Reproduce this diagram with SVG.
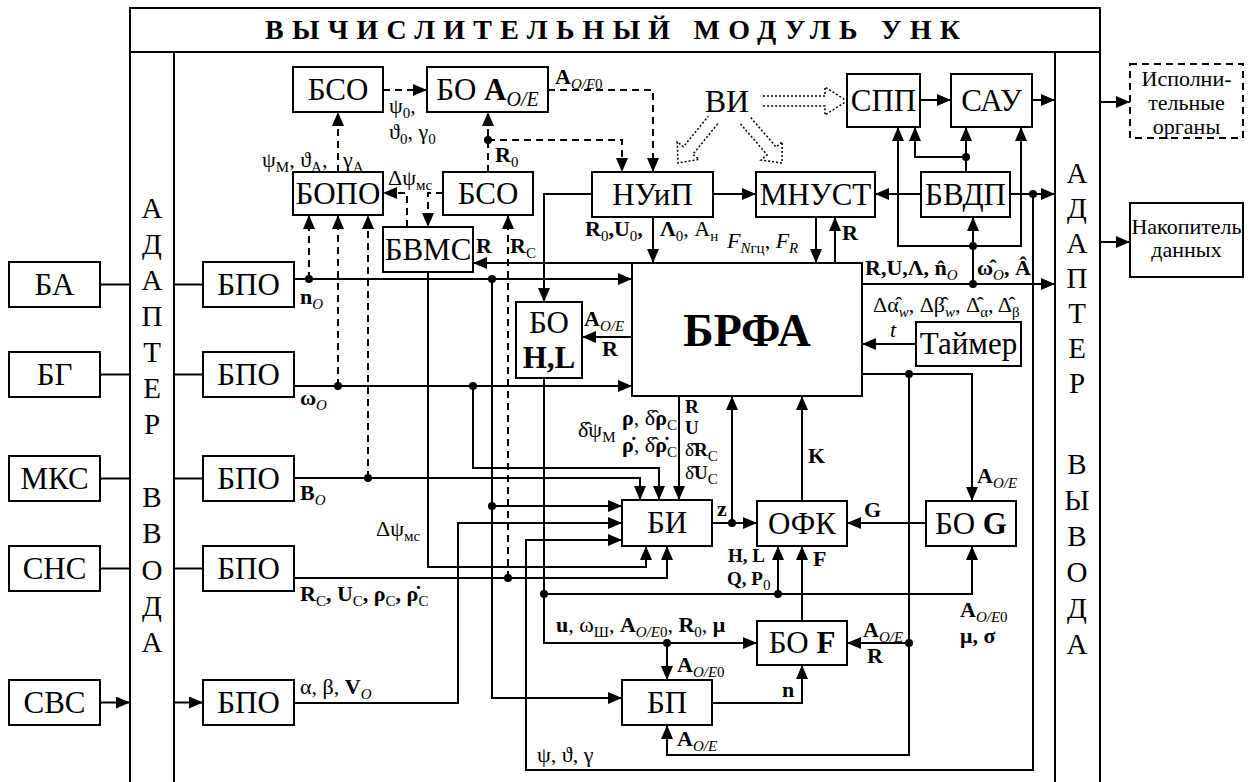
<svg xmlns="http://www.w3.org/2000/svg" width="1253" height="782" viewBox="0 0 1253 782" font-family="Liberation Serif, serif">
<defs>
<marker id="ah" viewBox="0 0 14 12" refX="14" refY="6" markerWidth="14" markerHeight="12" markerUnits="userSpaceOnUse" orient="auto"><path d="M0,0L14,6L0,12z" fill="#000"/></marker>
<style>
.box{fill:#fff;stroke:#000;stroke-width:2}
.dbox{fill:#fff;stroke:#000;stroke-width:2;stroke-dasharray:7 5}
.ln{fill:none;stroke:#000;stroke-width:2}
.dl{fill:none;stroke:#000;stroke-width:2;stroke-dasharray:7 5}
.a{marker-end:url(#ah)}
.dot{fill:#000}
.bar{fill:none;stroke:#000;stroke-width:1.5;stroke-dasharray:2 2}
text{font-family:'Liberation Serif',serif;fill:#000}
.t{font-size:31px;text-anchor:middle}
.l{font-size:22px}
.sm{font-size:19px}
.ad{font-size:29px;text-anchor:middle}
.b{font-weight:bold}
.n{font-weight:normal}
.i{font-style:italic}
.s{font-size:15px;baseline-shift:-5px}
.ss{font-size:20px;baseline-shift:-6px}
</style>
</defs>
<rect width="1253" height="782" fill="#fff"/>
<g id="frame">
<path class="ln" d="M130,790V8H1100V790M130,52H1100M174,52V790M1055,52V790"/>
<text class="b" x="265" y="39" textLength="695" lengthAdjust="spacing" style="font-size:28px">ВЫЧИСЛИТЕЛЬНЫЙ МОДУЛЬ УНК</text>
</g>
<g id="adapter-in">
<text class="ad"><tspan x="152" y="218">А</tspan><tspan x="152" y="254">Д</tspan><tspan x="152" y="290">А</tspan><tspan x="152" y="326">П</tspan><tspan x="152" y="362">Т</tspan><tspan x="152" y="398">Е</tspan><tspan x="152" y="434">Р</tspan><tspan x="152" y="507">В</tspan><tspan x="152" y="543">В</tspan><tspan x="152" y="580">О</tspan><tspan x="152" y="616">Д</tspan><tspan x="152" y="652">А</tspan></text>
</g>
<g id="adapter-out">
<text class="ad"><tspan x="1077" y="183">А</tspan><tspan x="1077" y="218">Д</tspan><tspan x="1077" y="253">А</tspan><tspan x="1077" y="288">П</tspan><tspan x="1077" y="323">Т</tspan><tspan x="1077" y="358">Е</tspan><tspan x="1077" y="393">Р</tspan><tspan x="1077" y="474">В</tspan><tspan x="1077" y="510">Ы</tspan><tspan x="1077" y="546">В</tspan><tspan x="1077" y="582">О</tspan><tspan x="1077" y="618">Д</tspan><tspan x="1077" y="654">А</tspan></text>
</g>
<g id="sensors">
<g id="BA"><rect class="box" x="9" y="262" width="91" height="45"/><text class="t" x="54.5" y="295">БА</text></g>
<g id="BG"><rect class="box" x="9" y="352" width="91" height="45"/><text class="t" x="54.5" y="385">БГ</text></g>
<g id="MKS"><rect class="box" x="9" y="456" width="91" height="45"/><text class="t" x="54.5" y="489">МКС</text></g>
<g id="SNS"><rect class="box" x="9" y="546" width="91" height="45"/><text class="t" x="54.5" y="579">СНС</text></g>
<g id="SVS"><rect class="box" x="9" y="680" width="91" height="45"/><text class="t" x="54.5" y="713">СВС</text></g>
</g>
<g id="bpo">
<g id="BPO1"><rect class="box" x="203" y="262" width="91" height="45"/><text class="t" x="248.5" y="295">БПО</text></g>
<g id="BPO2"><rect class="box" x="203" y="352" width="91" height="45"/><text class="t" x="248.5" y="385">БПО</text></g>
<g id="BPO3"><rect class="box" x="203" y="456" width="91" height="45"/><text class="t" x="248.5" y="489">БПО</text></g>
<g id="BPO4"><rect class="box" x="203" y="546" width="91" height="45"/><text class="t" x="248.5" y="579">БПО</text></g>
<g id="BPO5"><rect class="box" x="203" y="680" width="91" height="45"/><text class="t" x="248.5" y="713">БПО</text></g>
</g>
<g id="connectors">
<path class="ln a" d="M100,284.5H130M100,374.5H130M100,478.5H130M100,568.5H130M100,702.5H130"/>
<path class="ln a" d="M174,284.5H203M174,374.5H203M174,478.5H203M174,568.5H203M174,702.5H203"/>
<path class="ln a" d="M294,279H632"/>
<path class="ln a" d="M294,386H632"/>
<path class="ln a" d="M294,478H640V500"/>
<path class="ln a" d="M294,578H667V546"/>
<path class="ln a" d="M294,703H458V523H622"/>
<path class="ln a" d="M492,279V698H622"/>
<path class="ln a" d="M492,506H622"/>
<path class="ln a" d="M473,386V468H659V500"/>
<path class="ln a" d="M428,272V567H646V546"/>
<path class="dl a" d="M309,279V215"/>
<path class="dl a" d="M338,386V215"/>
<path class="dl a" d="M368,478V215"/>
<path class="dl a" d="M508,578V215"/>
<path class="dl a" d="M407,227V193H383"/>
<path class="dl a" d="M443,193H428V227"/>
<path class="dl a" d="M338,172V112"/>
<path class="dl a" d="M383,90H427"/>
<path class="dl a" d="M488,172V112"/>
<path class="dl a" d="M488,140H622V172"/>
<path class="dl a" d="M548,90H653V172"/>
<path class="ln a" d="M632,263H473"/>
<path class="ln a" d="M592,194H544V302"/>
<path class="ln a" d="M544,378V643H757"/>
<path class="ln a" d="M667,643V680"/>
<path class="ln a" d="M544,594H972V546"/>
<path class="ln a" d="M778,594V546"/>
<path class="ln a" d="M632,337H582"/>
<path class="ln a" d="M653,217V263"/>
<path class="ln a" d="M713,194H756"/>
<path class="ln a" d="M816,217V263"/>
<path class="ln a" d="M835,263V217"/>
<path class="ln a" d="M921,194H875"/>
<path class="ln a" d="M1010,194H1055"/>
<path class="ln a" d="M1033,194V770H526V540H622"/>
<path class="ln a" d="M920,100H951"/>
<path class="ln a" d="M1032,100H1055"/>
<path class="ln a" d="M966,172V127"/>
<path class="ln a" d="M966,157H915V127"/>
<path class="ln a" d="M862,284H1055"/>
<path class="ln a" d="M973,284V217"/>
<path class="ln a" d="M973,246H898V127"/>
<path class="ln a" d="M973,246H1021V127"/>
<path class="ln a" d="M916,344H862"/>
<path class="ln a" d="M862,374H972V501"/>
<path class="ln a" d="M909,374V755H667V725"/>
<path class="ln a" d="M909,643H847"/>
<path class="ln a" d="M926,523H847"/>
<path class="ln a" d="M712,523H757"/>
<path class="ln a" d="M732,523V396"/>
<path class="ln a" d="M802,501V396"/>
<path class="ln a" d="M802,621V546"/>
<path class="ln a" d="M712,703H802V665"/>
<path class="ln a" d="M679,396V500"/>
<path class="ln a" d="M1100,102H1130"/>
<path class="ln a" d="M1100,242H1130"/>
<path class="bar" d="M763,96H825V87L847,101L825,115V106H763"/>
<path class="bar" d="M717.7,123.8L692.8,154.4L699,159.4L678,163L677.2,141.8L683.4,146.8L708.3,116.2"/>
<path class="bar" d="M740.5,123.9L767.1,154.8L761,160L782,163L782.2,141.8L776.1,147L749.5,116.1"/>
<g class="dot">
<circle cx="309" cy="279" r="4"/><circle cx="492" cy="279" r="4"/><circle cx="338" cy="386" r="4"/><circle cx="473" cy="386" r="4"/><circle cx="368" cy="478" r="4"/><circle cx="508" cy="578" r="4"/><circle cx="492" cy="506" r="4"/><circle cx="488" cy="140" r="4"/><circle cx="544" cy="594" r="4"/><circle cx="667" cy="643" r="4"/><circle cx="778" cy="594" r="4"/><circle cx="1033" cy="194" r="4"/><circle cx="966" cy="157" r="4"/><circle cx="973" cy="284" r="4"/><circle cx="973" cy="246" r="4"/><circle cx="909" cy="374" r="4"/><circle cx="909" cy="643" r="4"/><circle cx="732" cy="523" r="4"/>
</g>
</g>
<g id="BSO1"><rect class="box" x="293" y="67" width="90" height="45"/><text class="t" x="338" y="100">БСО</text></g>
<g id="BOA"><rect class="box" x="427" y="67" width="121" height="45"/><text class="t" x="487.5" y="100">БО <tspan class="b">A</tspan><tspan class="ss i">O/E</tspan></text></g>
<g id="BOPO"><rect class="box" x="293" y="172" width="90" height="43"/><text class="t" x="338" y="204">БОПО</text></g>
<g id="BSO2"><rect class="box" x="443" y="172" width="90" height="43"/><text class="t" x="488" y="204">БСО</text></g>
<g id="BVMS"><rect class="box" x="383" y="227" width="90" height="45"/><text class="t" x="428" y="260">БВМС</text></g>
<g id="NUiP"><rect class="box" x="592" y="172" width="121" height="45"/><text class="t" x="652.5" y="205">НУиП</text></g>
<g id="MNUST"><rect class="box" x="756" y="172" width="119" height="45"/><text class="t" x="815.5" y="205">МНУСТ</text></g>
<g id="BVDP"><rect class="box" x="921" y="172" width="89" height="45"/><text class="t" x="965.5" y="205">БВДП</text></g>
<g id="SPP"><rect class="box" x="847" y="74" width="73" height="53"/><text class="t" x="883.5" y="111">СПП</text></g>
<g id="SAU"><rect class="box" x="951" y="74" width="81" height="53"/><text class="t" x="991.5" y="111">САУ</text></g>
<g id="VI"><text class="t" x="727" y="112" style="font-size:32px">ВИ</text></g>
<g id="Timer"><rect class="box" x="916" y="322" width="105" height="44"/><text class="t" x="968.5" y="354">Таймер</text></g>
<g id="BOHL"><rect class="box" x="516" y="302" width="66" height="76"/><text class="t" x="549" y="333">БО</text><text class="t b" x="549" y="368">H,L</text></g>
<g id="BRFA"><rect class="box" x="632" y="263" width="230" height="133"/><text class="t b" x="747" y="346" style="font-size:46px">БРФА</text></g>
<g id="BI"><rect class="box" x="622" y="500" width="90" height="46"/><text class="t" x="667" y="533">БИ</text></g>
<g id="OFK"><rect class="box" x="757" y="501" width="90" height="45"/><text class="t" x="802" y="534">ОФК</text></g>
<g id="BOG"><rect class="box" x="926" y="501" width="90" height="45"/><text class="t" x="971" y="534">БО <tspan class="b">G</tspan></text></g>
<g id="BOF"><rect class="box" x="757" y="621" width="90" height="44"/><text class="t" x="802" y="653">БО <tspan class="b">F</tspan></text></g>
<g id="BP"><rect class="box" x="622" y="680" width="90" height="45"/><text class="t" x="667" y="713">БП</text></g>
<g id="Ispoln"><rect class="dbox" x="1130" y="64" width="113" height="74"/><text class="t" style="font-size:22px"><tspan x="1186.5" y="86">Исполни-</tspan><tspan x="1186.5" y="110">тельные</tspan><tspan x="1186.5" y="134">органы</tspan></text></g>
<g id="Nakop"><rect class="box" x="1130" y="203" width="113" height="74"/><text class="t" style="font-size:22px"><tspan x="1186.5" y="234">Накопитель</tspan><tspan x="1186.5" y="257">данных</tspan></text></g>
<g id="labels">
<text class="l b" x="555" y="84">A<tspan class="s i n">O/E</tspan><tspan class="s n">0</tspan></text>
<text class="l" x="389" y="113">ψ<tspan class="s">0</tspan>,</text>
<text class="l" x="389" y="139">ϑ<tspan class="s">0</tspan>, γ<tspan class="s">0</tspan></text>
<text class="l" x="262" y="167">ψ<tspan class="s">M</tspan>, ϑ<tspan class="s">A</tspan>,</text>
<text class="l" x="343" y="167">γ<tspan class="s">A</tspan></text>
<text class="l" x="388" y="185">Δψ<tspan class="s">мс</tspan></text>
<text class="l b" x="495" y="162">R<tspan class="s n">0</tspan></text>
<text class="l b" x="476" y="253">R</text>
<text class="l b" x="510" y="253">R<tspan class="s n">C</tspan></text>
<text class="l b" x="300" y="304">n<tspan class="s i n">O</tspan></text>
<text class="l b" x="300" y="405">ω<tspan class="s i n">O</tspan></text>
<text class="l b" x="300" y="500">B<tspan class="s i n">O</tspan></text>
<text class="l" x="376" y="536">Δψ<tspan class="s">мс</tspan></text>
<text class="l b" x="300" y="601">R<tspan class="s n">C</tspan>, U<tspan class="s n">C</tspan>, ρ<tspan class="s n">C</tspan>, ρ̇<tspan class="s n">C</tspan></text>
<text class="l" x="300" y="694">α, β, <tspan class="b">V</tspan><tspan class="s i">O</tspan></text>
<text class="l" x="556" y="632"><tspan class="b">u</tspan>, ω<tspan class="s">Ш</tspan>, <tspan class="b">A</tspan><tspan class="s i">O/E</tspan><tspan class="s">0</tspan>, <tspan class="b">R</tspan><tspan class="s">0</tspan>, <tspan class="b">μ</tspan></text>
<text class="l" x="537" y="762">ψ, ϑ, γ</text>
<text class="l b" x="677" y="672">A<tspan class="s i n">O/E</tspan><tspan class="s n">0</tspan></text>
<text class="l b" x="677" y="746">A<tspan class="s i n">O/E</tspan></text>
<text class="l b" x="782" y="697">n</text>
<text class="l b" x="863" y="637">A<tspan class="s i n">O/E</tspan></text>
<text class="l b" x="867" y="663">R</text>
<text class="l b" x="960" y="617">A<tspan class="s i n">O/E</tspan><tspan class="s n">0</tspan></text>
<text class="l b" x="960" y="643">μ, σ</text>
<text class="l b" x="864" y="517">G</text>
<text class="sm b" x="728" y="562">H, L</text>
<text class="sm b" x="727" y="585">Q, P<tspan class="s n">0</tspan></text>
<text class="l b" x="813" y="566">F</text>
<text class="l b" x="717" y="516">z</text>
<text class="l b" x="808" y="463">K</text>
<text class="l b" x="977" y="483">A<tspan class="s i n">O/E</tspan></text>
<text class="l b" x="865" y="275">R,U,Λ, n̂<tspan class="s i n">O</tspan></text>
<text class="l b" x="977" y="275">ω̂<tspan class="s i n">O</tspan>, Â</text>
<text class="l" x="873" y="312">Δα̂<tspan class="s i">w</tspan>, Δβ̂<tspan class="s i">w</tspan>, Δ̂<tspan class="s">α</tspan>, Δ̂<tspan class="s">β</tspan></text>
<text class="l i" x="890" y="337">t</text>
<text class="l b" x="585" y="236">R<tspan class="s n">0</tspan>,U<tspan class="s n">0</tspan>,</text>
<text class="l" x="660" y="236"><tspan class="b">Λ</tspan><tspan class="s">0</tspan>, A<tspan class="s">н</tspan></text>
<text class="l" x="727" y="248"><tspan class="i">F</tspan><tspan class="s"><tspan class="i">N</tspan>гц</tspan>, <tspan class="i">F</tspan><tspan class="s i">R</tspan></text>
<text class="l b" x="842" y="240">R</text>
<text class="l b" x="584" y="326">A<tspan class="s i n">O/E</tspan></text>
<text class="l b" x="602" y="356">R</text>
<text class="l" x="578" y="437">δ̂ψ<tspan class="s">M</tspan></text>
<text class="l" x="622" y="425"><tspan class="b">ρ</tspan>, δ̂<tspan class="b">ρ</tspan><tspan class="s">C</tspan></text>
<text class="l" x="622" y="452"><tspan class="b">ρ̇</tspan>, δ̂<tspan class="b">ρ̇</tspan><tspan class="s">C</tspan></text>
<text class="sm b" x="685" y="413">R</text>
<text class="sm b" x="685" y="434">U</text>
<text class="sm" x="685" y="456">δ̂<tspan class="b">R</tspan><tspan class="s">C</tspan></text>
<text class="sm" x="685" y="479">δ̂<tspan class="b">U</tspan><tspan class="s">C</tspan></text>
</g>
</svg>
